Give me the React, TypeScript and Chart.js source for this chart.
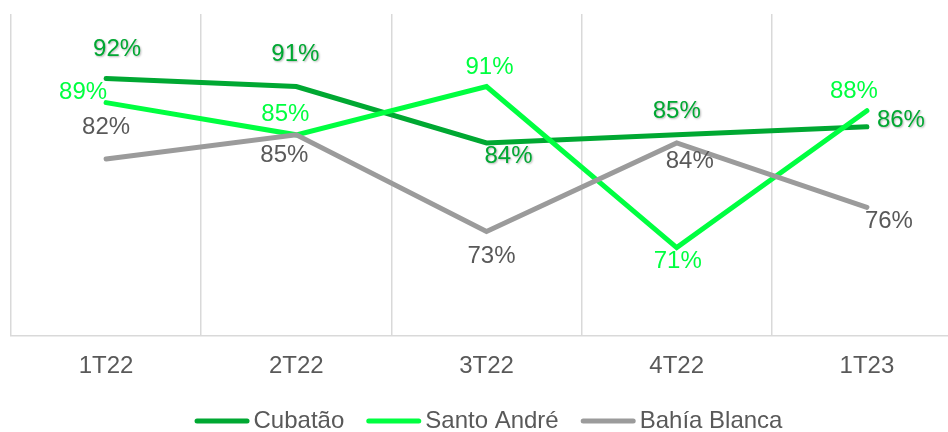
import React, { useEffect, useRef } from "react";
import { Chart, registerables } from "chart.js";

Chart.register(...registerables);

const categories = ["1T22", "2T22", "3T22", "4T22", "1T23"];
const cubatao = [92, 91, 84, 85, 86];
const santoAndre = [89, 85, 91, 71, 88];
const bahiaBlanca = [82, 85, 73, 84, 76];
const seriesNames = ["Cubatão", "Santo André", "Bahía Blanca"];

const FONT_FAMILY = '"Liberation Sans", Arial, Helvetica, sans-serif';
const FONT_SIZE = 24;
const TEXT_GRAY = "#595959";
const lineColors = ["#00A832", "#00FF40", "#9B9B9B"];
const labelColors = ["#00A832", "#00FF40", TEXT_GRAY];

// label offsets from each point (style only)
const labelOffsets: number[][][] = [
  [[11, -29], [-1, -32], [22, 13], [0, -23], [34, -6]],
  [[-23, -10], [-11, -20], [3, -19], [1, 14], [-13, -19]],
  [[0, -32], [-12, 21], [5, 25], [13, 18], [22, 14]],
];

const labelsPlugin = {
  id: "pointLabels",
  afterDatasetsDraw(chart: any) {
    const ctx = chart.ctx;
    ctx.save();
    ctx.font = `${FONT_SIZE}px ${FONT_FAMILY}`;
    ctx.textAlign = "center";
    ctx.textBaseline = "middle";
    chart.data.datasets.forEach((ds: any, i: number) => {
      const meta = chart.getDatasetMeta(i);
      meta.data.forEach((pt: any, j: number) => {
        const [dx, dy] = labelOffsets[i][j];
        ctx.save();
        if (i === 0) {
          ctx.shadowColor = "rgba(0,0,0,0.3)";
          ctx.shadowBlur = 2;
          ctx.shadowOffsetX = 1;
          ctx.shadowOffsetY = 1;
        }
        ctx.fillStyle = labelColors[i];
        ctx.fillText(`${ds.data[j]}%`, pt.x + dx, pt.y + dy);
        ctx.restore();
      });
    });
    ctx.restore();
  },
};

const legendPlugin = {
  id: "customLegend",
  afterDraw(chart: any) {
    const ctx = chart.ctx;
    const area = chart.chartArea;
    ctx.save();
    ctx.font = `${FONT_SIZE}px ${FONT_FAMILY}`;
    const lineLen = 55;
    const textGap = 4;
    const itemGap = 22;
    const widths = seriesNames.map((n) => lineLen + textGap + ctx.measureText(n).width);
    const total = widths.reduce((a, b) => a + b, 0) + itemGap * (widths.length - 1);
    let x = (area.left + area.right) / 2 + 2 - total / 2;
    const y = 421;
    seriesNames.forEach((name, i) => {
      ctx.strokeStyle = lineColors[i];
      ctx.lineWidth = 5;
      ctx.lineCap = "round";
      ctx.beginPath();
      ctx.moveTo(x + 2.5, y);
      ctx.lineTo(x + lineLen - 2.5, y);
      ctx.stroke();
      ctx.fillStyle = TEXT_GRAY;
      ctx.textAlign = "left";
      ctx.textBaseline = "middle";
      ctx.fillText(name, x + lineLen + textGap, y);
      x += widths[i] + itemGap;
    });
    ctx.restore();
  },
};

export default function App() {
  const canvasRef = useRef<HTMLCanvasElement | null>(null);

  useEffect(() => {
    if (!canvasRef.current) return;
    const series = [cubatao, santoAndre, bahiaBlanca];
    const chart = new Chart(canvasRef.current, {
      type: "line",
      data: {
        labels: categories,
        datasets: series.map((values, i) => ({
          label: seriesNames[i],
          data: values,
          borderColor: lineColors[i],
          backgroundColor: lineColors[i],
          borderWidth: 5,
          pointRadius: 0,
          pointHoverRadius: 0,
          tension: 0,
          borderCapStyle: "round" as const,
          borderJoinStyle: "miter" as const,
          order: 2 - i,
          clip: false as any,
        })),
      },
      options: {
        animation: false,
        responsive: false,
        maintainAspectRatio: false,
        events: [],
        layout: { padding: { top: 14, left: 11, right: 0, bottom: 35 } },
        plugins: {
          legend: { display: false },
          tooltip: { enabled: false },
        },
        scales: {
          x: {
            offset: true,
            grid: {
              offset: true,
              color: "#D9D9D9",
              lineWidth: 1.5,
              drawTicks: false,
            },
            border: { display: true, color: "#D9D9D9", width: 1.5 },
            ticks: {
              color: TEXT_GRAY,
              font: { family: FONT_FAMILY, size: FONT_SIZE },
              padding: 16,
              maxRotation: 0,
            },
          },
          y: { display: false, min: 60, max: 100 },
        },
      },
      plugins: [labelsPlugin, legendPlugin],
    });
    return () => chart.destroy();
  }, []);

  return (
    <div
      style={{
        position: "fixed",
        left: 0,
        top: 0,
        width: "948px",
        height: "432px",
        overflow: "hidden",
        background: "#ffffff",
      }}
    >
      <canvas
        ref={canvasRef}
        width={962}
        height={432}
        style={{ position: "absolute", left: 0, top: 0, width: "962px", height: "432px" }}
      />
    </div>
  );
}
